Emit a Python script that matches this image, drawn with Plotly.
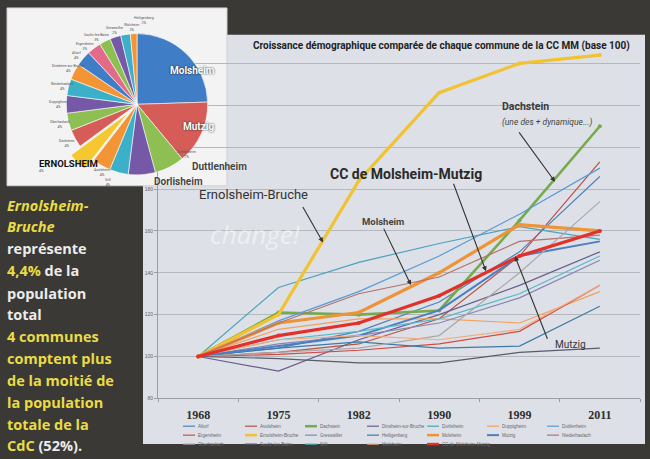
import plotly.graph_objects as go

W, H = 650, 459

# ---------------- data ----------------
years = ["1968", "1975", "1982", "1990", "1999", "2011"]

communes = ["Altorf", "Avolsheim", "Dachstein", "Dinsheim-sur-Bruche", "Dorlisheim",
            "Duppigheim", "Duttlenheim", "Ergersheim", "Ernolsheim-Bruche", "Gresswiller",
            "Heiligenberg", "Molsheim", "Mutzig", "Niederhaslach", "Oberhaslach",
            "Soultz-les-Bains", "Still", "Wolxheim", "CC de Molsheim-Mutzig"]

altorf = [100, 104, 112, 126, 150, 186]
avolsheim = [100, 102, 106, 118, 148, 193]
dachstein = [100, 121, 120, 122, 165, 210]
dinsheim = [100, 93, 108, 120, 134, 150]
dorlisheim = [100, 133, 145, 154, 162, 156]
duppigheim = [100, 113, 118, 118, 116, 131]
duttlenheim = [100, 117, 131, 148, 168, 190]
ergersheim = [100, 101, 103, 106, 112, 134]
ernolsheim = [100, 120, 184, 226, 240, 244]
gresswiller = [100, 106, 110, 116, 128, 146]
heiligenberg = [100, 104, 107, 104, 105, 124]
molsheim = [100, 116, 121, 140, 163, 160]
mutzig = [100, 105, 110, 122, 148, 155]
niederhaslach = [100, 116, 130, 138, 155, 158]
oberhaslach = [100, 102, 104, 110, 140, 174]
soultz = [100, 99, 97, 97, 102, 104]
still = [100, 108, 112, 118, 130, 148]
wolxheim = [100, 108, 110, 108, 113, 134]
cc_mm = [100, 110, 116, 129, 148, 160]

series = [altorf, avolsheim, dachstein, dinsheim, dorlisheim, duppigheim, duttlenheim,
          ergersheim, ernolsheim, gresswiller, heiligenberg, molsheim, mutzig,
          niederhaslach, oberhaslach, soultz, still, wolxheim, cc_mm]

line_colors = ["#4f81bd", "#b9504b", "#76ab4c", "#6a5d8f", "#4ba3bd", "#f2a060", "#5b9bd5",
               "#d24a44", "#f1c232", "#8a84b2", "#3c7ca6", "#ee9338", "#4a7fc1", "#b5726c",
               "#a9a9a9", "#585c6c", "#55b8cc", "#f3ab7c", "#e2302a"]
line_widths = [1.2, 1.2, 2.6, 1.2, 1.2, 1.2, 1.2, 1.2, 3.2, 1.2, 1.2, 3.2, 2.0, 1.2,
               1.2, 1.2, 1.2, 1.2, 3.2]

# pie: population shares (%)
pie_labels = ["Molsheim", "Mutzig", "Duttlenheim", "Dorlisheim", "Still", "Avolsheim",
              "Ernolsheim-Bruche", "Dachstein", "Oberhaslach", "Duppigheim", "Niederhaslach",
              "Dinsheim-sur-Bruche", "Altorf", "Ergersheim", "Soultz-les-Bains", "Gresswiller",
              "Wolxheim", "Heiligenberg"]
pie_values = [24.5, 14.5, 6.8, 6.2, 4.3, 4.2, 4.4, 4.1, 4.0, 4.0, 3.8, 3.7, 3.5, 3.2,
              2.6, 2.5, 2.2, 1.5]
pie_colors = ["#3f7dc6", "#d65c58", "#8dbf52", "#7558a6", "#3cb0c9", "#f39436",
              "#f5c731", "#d65c58", "#8dbf52", "#7558a6", "#3cb0c9", "#f39436",
              "#3f7dc6", "#e46a8a", "#8dbf52", "#7558a6", "#3cb0c9", "#f39436"]

yticks = [80, 100, 120, 140, 160, 180, 200, 220, 240]


def px(x):
    return x / W


def py(y):
    return 1 - y / H


fig = go.Figure()

for name, vals, col, w in zip(communes, series, line_colors, line_widths):
    fig.add_trace(go.Scatter(
        x=years, y=vals, name=name, mode="lines+markers" if w > 2.5 else "lines",
        line=dict(color=col, width=w),
        marker=dict(size=4, color=col),
        showlegend=False, hoverinfo="x+y+name"))

fig.add_trace(go.Pie(
    labels=pie_labels, values=pie_values, sort=False, direction="clockwise",
    rotation=0, textinfo="none", showlegend=False,
    pull=[0.18 if l == "Ernolsheim-Bruche" else 0 for l in pie_labels],
    marker=dict(colors=pie_colors, line=dict(color="#ffffff", width=0.6)),
    domain=dict(x=[px(137 - 84), px(137 + 84)], y=[py(105 + 84), py(105 - 84)])))

shapes = [
    # chart panel
    dict(type="rect", xref="paper", yref="paper", x0=px(143), x1=px(645),
         y0=py(447), y1=py(35), fillcolor="#dde0e6", line=dict(width=0), layer="below"),
    # pie panel
    dict(type="rect", xref="paper", yref="paper", x0=px(7), x1=px(227),
         y0=py(187), y1=py(8), fillcolor="#f3f3f3", line=dict(color="#cfcfcf", width=1),
         layer="between"),
]

annotations = []
FONT = "Roboto, Liberation Sans, sans-serif"

# title
annotations.append(dict(
    text="Croissance démographique comparée de chaque commune de la CC MM (base 100)",
    x=px(632), y=py(46), xref="paper", yref="paper", xanchor="right", yanchor="middle",
    showarrow=False, font=dict(family=FONT, size=10, color="#222", weight="bold")))

# watermark
annotations.append(dict(text="<i>change!</i>", x=px(255), y=py(236), xref="paper", yref="paper",
                        showarrow=False, font=dict(family="Open Sans", size=26,
                                                   color="rgba(255,255,255,0.5)")))


def label(text, x, y, size, anchor="left", weight="normal", italic=False, color="#333"):
    annotations.append(dict(
        text=text, x=px(x), y=py(y), xref="paper", yref="paper", xanchor=anchor,
        yanchor="middle", showarrow=False,
        font=dict(family=FONT, size=size, color=color, weight=weight,
                  style="italic" if italic else "normal")))


def arrow(x_tail, y_tail, x_head, y_head):
    annotations.append(dict(
        text="", x=px(x_head), y=py(y_head), xref="paper", yref="paper",
        ax=x_tail - x_head, ay=y_tail - y_head, axref="pixel", ayref="pixel",
        showarrow=True, arrowhead=2, arrowsize=0.9, arrowwidth=1.1, arrowcolor="#333"))


label("Ernolsheim-Bruche", 197, 196, 13)
arrow(302, 207, 323, 244)
label("CC de Molsheim-Mutzig", 328, 175, 14, weight="bold", color="#2a2a2a")
arrow(453, 184, 486, 273)
label("Molsheim", 360, 223, 9.5, weight="bold", color="#444")
arrow(383, 229, 411, 287)
label("Dachstein", 500, 107, 10.5, weight="bold", color="#3a3a3a")
label("(une des + dynamique...)", 500, 123, 8.5, italic=True, color="#444")
arrow(518, 132, 555, 183)
label("Mutzig", 553, 347, 10, color="#333")
arrow(548, 342, 515, 258)


def pielab(text, x, y, size, color="#fff", shadow="0px 0px 2px #111", weight="bold"):
    annotations.append(dict(
        text=text, x=px(x), y=py(y), xref="paper", yref="paper", showarrow=False,
        font=dict(family=FONT, size=size, color=color, weight=weight, shadow=shadow)))


pielab("Molsheim", 168, 63, 10)
pielab("Mutzig", 181, 120, 10)
pielab("Duttlenheim", 190, 168, 10, color="#444", shadow="0px 0px 2px #fff")
pielab("Dorlisheim", 152, 183, 10, color="#444", shadow="0px 0px 2px #fff")
pielab("ERNOLSHEIM", 37, 165, 9.5, color="#111", shadow="none")
pielab("4%", 37, 172, 3.5, color="#555", shadow="none", weight="normal")

tiny = [("Heiligenberg", 132, 14), ("Wolxheim", 122, 21), ("Gresswiller", 104, 24),
        ("Soultz-les-Bains", 82, 31), ("Ergersheim", 74, 40), ("Altorf", 70, 49),
        ("Dinsheim-sur-Bruche", 50, 62), ("Niederhaslach", 49, 81), ("Duppigheim", 47, 99),
        ("Oberhaslach", 48, 119), ("Dachstein", 57, 138), ("Avolsheim", 92, 174),
        ("Still", 103, 184), ("Duttlenheim", 175, 156)]
pct = {l: v for l, v in zip(pie_labels, pie_values)}
for t, x, y in tiny:
    pielab(f"{t}<br>{round(pct[t])}%", x, y, 3.5, color="#555", shadow="none", weight="normal")

# left text block
left_lines = [
    ("<i>Ernolsheim-</i>", 207), ("<i>Bruche</i>", 228),
    ("<span style='color:#ececec'>représente</span>", 250),
    ("4,4%<span style='color:#ececec'> de la</span>", 272),
    ("<span style='color:#ececec'>population</span>", 295),
    ("<span style='color:#ececec'>total</span>", 317),
    ("4 communes", 339), ("comptent plus", 361), ("de la moitié de", 383),
    ("la population", 405), ("totale de la", 427),
    ("CdC<span style='color:#ececec'> (52%).</span>", 448),
]
for t, y in left_lines:
    annotations.append(dict(
        text=t, x=px(5), y=py(y), xref="paper", yref="paper", xanchor="left",
        yanchor="middle", showarrow=False,
        font=dict(family="Open Sans, Noto Sans, sans-serif", size=14.5, color="#e9dc45",
                  weight="bold")))

# manual legend (3 rows x 7 columns)
col_x = [183, 245, 305, 367, 427, 487, 547]
row_y = [429, 438, 447]
for i, (name, col, w) in enumerate(zip(communes, line_colors, line_widths)):
    r, c = divmod(i, 7)
    x0, y0 = col_x[c], row_y[r]
    shapes.append(dict(type="line", xref="paper", yref="paper", x0=px(x0), x1=px(x0 + 12),
                       y0=py(y0), y1=py(y0), line=dict(color=col, width=min(w, 2.5))))
    annotations.append(dict(text=name, x=px(x0 + 13), y=py(y0), xref="paper", yref="paper",
                            xanchor="left", yanchor="middle", showarrow=False,
                            font=dict(family="Liberation Sans, sans-serif", size=4.5,
                                      color="#666")))

fig.update_layout(
    width=W, height=H, margin=dict(l=0, r=0, t=0, b=0),
    paper_bgcolor="#3b3936", plot_bgcolor="rgba(0,0,0,0)",
    shapes=shapes, annotations=annotations, showlegend=False,
    xaxis=dict(type="category", domain=[px(158), px(640)], range=[-0.5, 5.5],
               showgrid=False, showline=True, linecolor="#9a9da3", linewidth=1,
               ticks="outside", tickson="boundaries", ticklen=3, tickcolor="#9a9da3",
               ticklabelstandoff=5,
               tickfont=dict(family="Liberation Serif, DejaVu Serif, serif", size=12,
                             color="#2e2e2e", weight="bold"), fixedrange=True),
    yaxis=dict(domain=[py(401), py(47)], range=[80, 248], tickvals=yticks,
               showgrid=True, gridcolor="#b3b7be", gridwidth=1, zeroline=False,
               showline=True, linecolor="#9a9da3", ticks="outside", ticklen=3,
               tickcolor="#9a9da3",
               tickfont=dict(family="Liberation Sans, sans-serif", size=5, color="#666"),
               fixedrange=True),
)

fig.write_html("out.html", config={"displayModeBar": False},
               post_script="document.body.style.margin='0';"
                           "document.body.style.overflow='hidden';")
